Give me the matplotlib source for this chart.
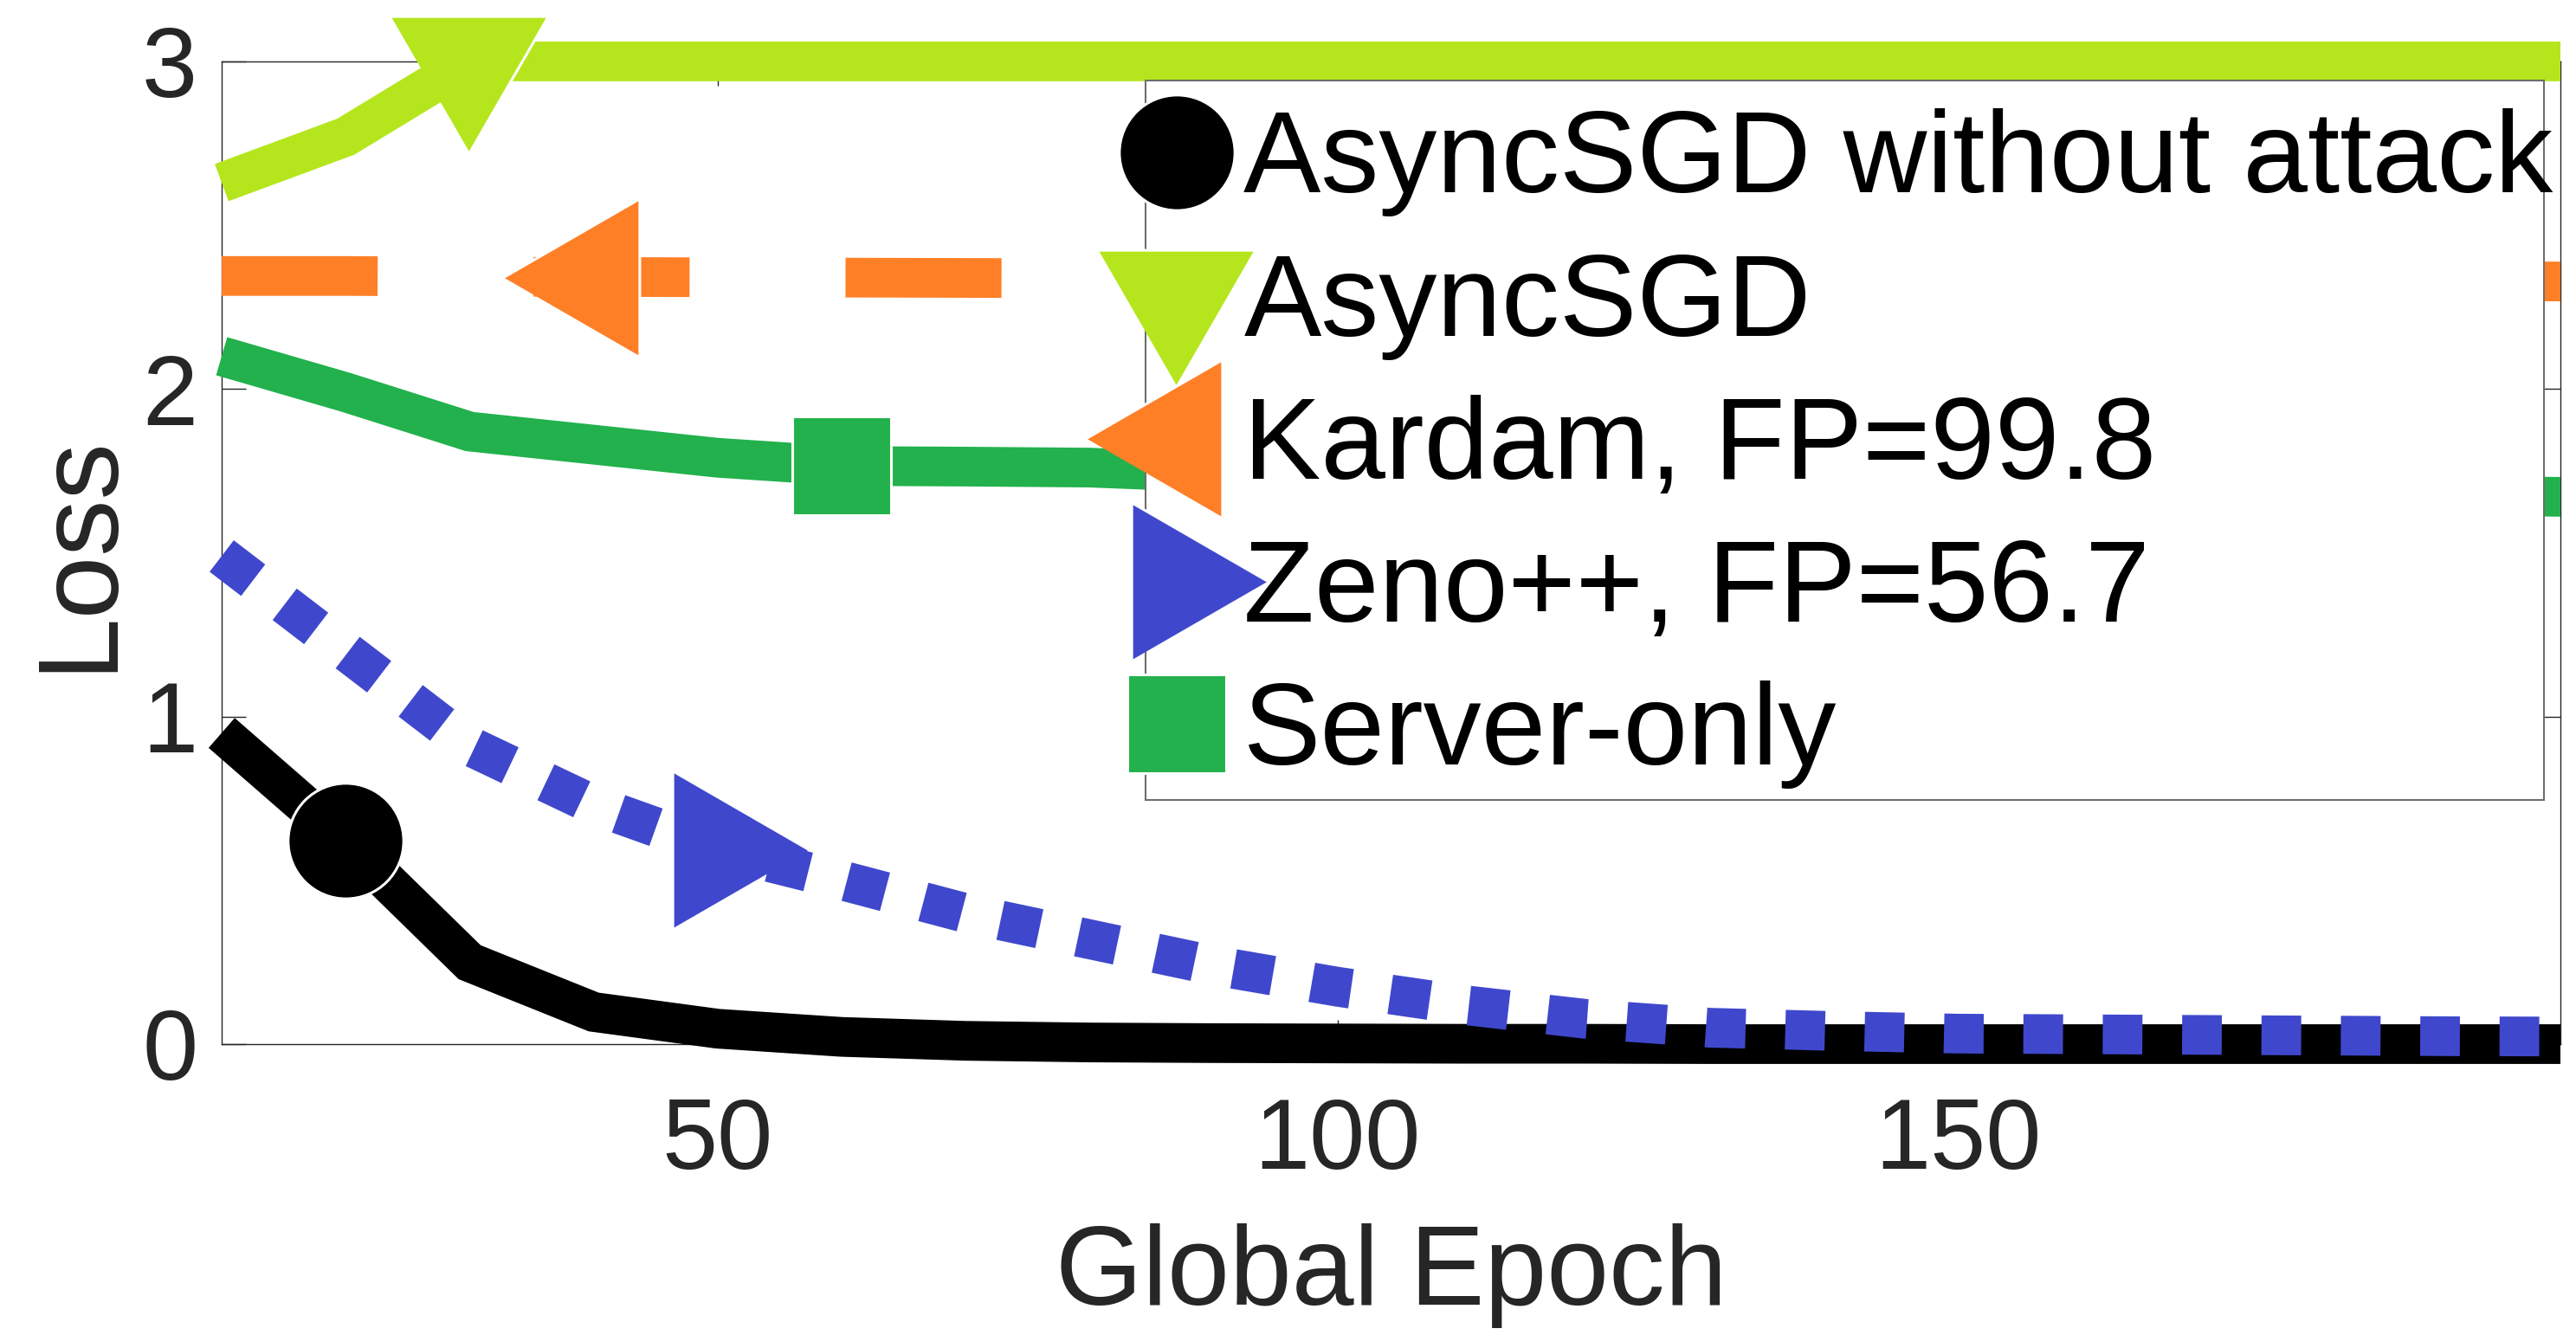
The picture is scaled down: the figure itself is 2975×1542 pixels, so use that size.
import numpy as np
import matplotlib
matplotlib.use("Agg")
import matplotlib.pyplot as plt
from matplotlib.lines import Line2D
from matplotlib.patches import Rectangle

plt.rcParams['font.family'] = ['Liberation Sans', 'DejaVu Sans']

# data
epochs = [10, 20, 30, 40, 50, 60, 70, 80, 90, 100,
          110, 120, 130, 140, 150, 160, 170, 180, 190, 200]

loss_clean = [0.95, 0.62, 0.25, 0.098, 0.047, 0.022, 0.010, 0.005, 0.003, 0.002,
              0.001, 0.001, 0.0, 0.0, 0.0, 0.0, 0.0, 0.0, 0.0, 0.0]
loss_async = [2.63, 2.77, 3.0, 3.0, 3.0, 3.0, 3.0, 3.0, 3.0, 3.0,
              3.0, 3.0, 3.0, 3.0, 3.0, 3.0, 3.0, 3.0, 3.0, 3.0]
loss_kardam = [2.345, 2.345, 2.343, 2.342, 2.341, 2.340, 2.339, 2.338, 2.337, 2.336,
               2.335, 2.334, 2.333, 2.332, 2.331, 2.330, 2.330, 2.329, 2.329, 2.328]
loss_zeno = [1.49, 1.20, 0.91, 0.73, 0.595, 0.50, 0.40, 0.32, 0.24, 0.175,
             0.12, 0.077, 0.05, 0.04, 0.032, 0.03, 0.028, 0.026, 0.024, 0.023]
loss_server = [2.10, 1.99, 1.87, 1.83, 1.79, 1.765, 1.763, 1.76, 1.745, 1.735,
               1.725, 1.715, 1.71, 1.70, 1.695, 1.69, 1.685, 1.68, 1.675, 1.67]

labels = ['AsyncSGD without attack', 'AsyncSGD', 'Kardam, FP=99.8',
          'Zeno++, FP=56.7', 'Server-only']

# equilateral triangles centred on their centroid (like MATLAB markers)
tri_down = [(-1, 0.577), (1, 0.577), (0, -1.155)]
tri_left = [(0.577, -1), (0.577, 1), (-1.155, 0)]
tri_right = [(-0.577, -1), (-0.577, 1), (1.155, 0)]

styles = [
    dict(color='#000000', ls='-', marker='o', ms=96, idx=1),
    dict(color='#B5E61D', ls='-', marker=tri_down, ms=151, idx=2),
    dict(color='#FF7F27', ls=(0, (3.93, 3.93)), marker=tri_left, ms=151, idx=3),
    dict(color='#3F48CC', ls=(0, (1.0, 1.0)), marker=tri_right, ms=151, idx=4),
    dict(color='#22B14C', ls='-', marker='s', ms=82, idx=5),
]
series = [loss_clean, loss_async, loss_kardam, loss_zeno, loss_server]

fig = plt.figure(figsize=(29.75, 15.42), dpi=100)
ax = fig.add_axes([0.08605, 0.2179, 0.9079, 0.7361])
ax.set_axisbelow(True)

clip = Rectangle((-0.05, -0.3), 1.05, 1.6, transform=ax.transAxes)

handles = []
for y, st in zip(series, styles):
    line, = ax.plot(epochs, y, color=st['color'], linestyle=st['ls'], linewidth=33,
                    solid_capstyle='butt', dash_capstyle='butt',
                    solid_joinstyle='miter', dash_joinstyle='miter',
                    marker=st['marker'], markersize=st['ms'], markevery=[st['idx']],
                    markerfacecolor=st['color'], markeredgecolor='white',
                    markeredgewidth=2.2)
    line.set_clip_path(clip)
    handles.append(Line2D([], [], linestyle='none', marker=st['marker'],
                          markersize=st['ms'], markerfacecolor=st['color'],
                          markeredgecolor='white', markeredgewidth=2.2))

ax.set_xlim(10, 198.6)
ax.set_ylim(0, 3)
ax.set_xticks([50, 100, 150])
ax.set_yticks([0, 1, 2, 3])

for s in ax.spines.values():
    s.set_linewidth(1.0)
    s.set_color('#262626')
    s.set_zorder(0.5)

ax.tick_params(direction='in', length=20, width=1, colors='#262626',
               top=True, right=True, labelsize=83)
ax.tick_params(axis='x', pad=44)
ax.tick_params(axis='y', pad=20)

ax.set_xlabel('Global Epoch', fontsize=93, labelpad=28, color='#262626')
ax.set_ylabel('Loss', fontsize=94, labelpad=8, color='#262626')

# legend box (MATLAB style, drawn separately)
frame = Rectangle((0.3950, 0.2485), 0.9930 - 0.3950, 0.9806 - 0.2485,
                  transform=ax.transAxes, facecolor='white', edgecolor='#6e6e6e',
                  linewidth=1.5, zorder=4)
ax.add_patch(frame)

leg = ax.legend(handles, labels, loc='upper left', bbox_to_anchor=(0.3958, 0.952),
                frameon=False, borderpad=0, borderaxespad=0, handlelength=0.5,
                handletextpad=0.33, labelspacing=0.30, fontsize=96.5)
leg.set_zorder(5)

fig.savefig('out.png', dpi=100)
